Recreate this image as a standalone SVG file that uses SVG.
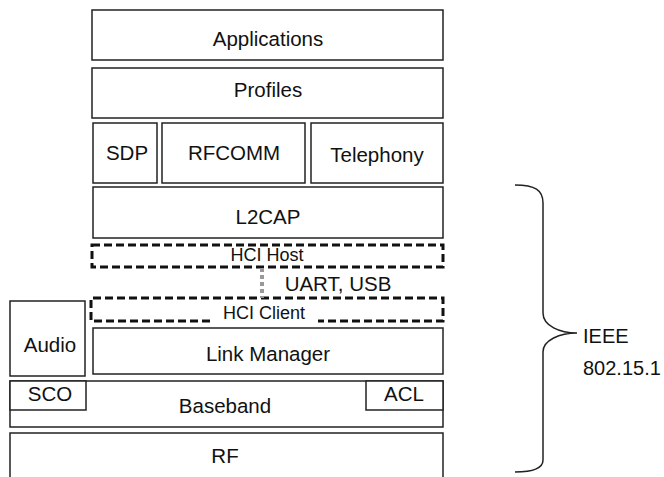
<svg xmlns="http://www.w3.org/2000/svg" width="664" height="477" viewBox="0 0 664 477">
<style>
.box{fill:#fff;stroke:#222;stroke-width:1.5}
.dash{fill:none;stroke:#111;stroke-width:3;stroke-dasharray:8 4}
.t{font-family:"Liberation Sans",Arial,sans-serif;font-size:20.5px;fill:#111;text-anchor:middle}
.s{font-family:"Liberation Sans",Arial,sans-serif;font-size:18px;fill:#111;text-anchor:middle}
.l{font-family:"Liberation Sans",Arial,sans-serif;font-size:20px;fill:#111}
</style>
<rect width="664" height="477" fill="#fff"/>
<g id="applications"><rect class="box" x="92" y="10" width="351" height="50"/><text class="t" x="268" y="46">Applications</text></g>
<g id="profiles"><rect class="box" x="92" y="68" width="351" height="50"/><text class="t" x="268" y="97">Profiles</text></g>
<g id="sdp"><rect class="box" x="93" y="123" width="64" height="60"/><text class="t" x="127" y="160">SDP</text></g>
<g id="rfcomm"><rect class="box" x="162" y="123" width="143" height="60"/><text class="t" x="234" y="160">RFCOMM</text></g>
<g id="telephony"><rect class="box" x="311" y="123" width="132" height="60"/><text class="t" x="377" y="162">Telephony</text></g>
<g id="l2cap"><rect class="box" x="93" y="187" width="350" height="51"/><text class="t" x="268" y="224">L2CAP</text></g>
<g id="hci-host"><rect class="dash" x="92" y="245" width="351" height="22"/><text class="s" x="267" y="261">HCI Host</text></g>
<g id="hci-client"><path class="dash" d="M210,321 H91 V298 H443 V321 H318"/><text class="s" x="264" y="319">HCI Client</text></g>
<g id="audio"><rect class="box" x="10" y="301" width="75" height="75"/><text class="t" x="50" y="352">Audio</text></g>
<g id="link-manager"><rect class="box" x="93" y="328" width="350" height="46"/><text class="t" x="268" y="361">Link Manager</text></g>
<g id="baseband"><rect class="box" x="10" y="381" width="433" height="46"/><text class="t" x="225" y="413">Baseband</text></g>
<g id="sco"><rect class="box" x="10" y="381" width="76" height="29"/><text class="t" x="50" y="401">SCO</text></g>
<g id="acl"><rect class="box" x="366" y="381" width="77" height="29"/><text class="t" x="404" y="401">ACL</text></g>
<g id="rf"><rect class="box" x="10" y="433" width="433" height="60"/><text class="t" x="225" y="463">RF</text></g>
<g id="connectors">
<line x1="262" y1="268" x2="262" y2="298" stroke="#999" stroke-width="4" stroke-dasharray="4 3"/>
<text class="t" x="338" y="291">UART, USB</text>
</g>
<g id="brace">
<path d="M515,185 C535,185 543,190 543,203 V313 C543,326 560,333 577,333 C560,333 543,340 543,352 V460 C543,468 535,472 515,472" fill="none" stroke="#222" stroke-width="1.5"/>
<text class="l" x="583" y="343">IEEE</text>
<text class="l" x="583" y="375">802.15.1</text>
</g>
</svg>
